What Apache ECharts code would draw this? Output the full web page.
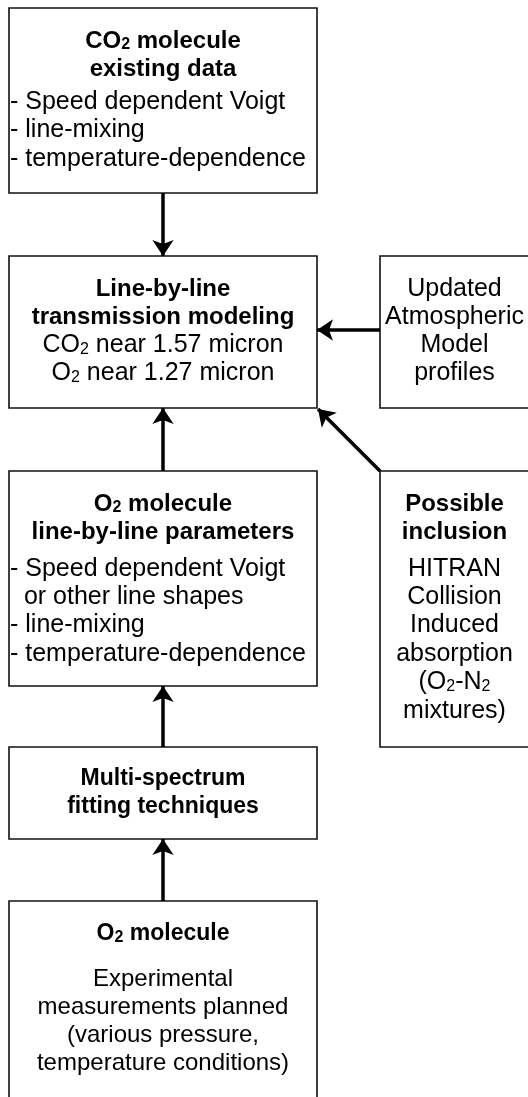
<!DOCTYPE html>
<html>
<head>
<meta charset="utf-8">
<script src="https://cdn.jsdelivr.net/npm/echarts@6/dist/echarts.min.js"></script>
<style>
    html, body { margin: 0; padding: 0; background: #fff; }
    #flowChart { width: 528px; height: 1097px; }
</style>
</head>
<body>
<div id="flowChart"></div>
<script>
// boxes (in page units, y grows downward)
var boxLeft   = [9,   9,   380, 9,   380, 9,   9];
var boxRight  = [317, 317, 529, 317, 529, 317, 317];
var boxTop    = [8,   256, 256, 471, 471, 747, 901];
var boxBottom = [193, 408, 408, 686, 747, 839, 1120];

// text lines: box index, centre y, rich text, alignment
var lineBox = [0, 0, 0, 0, 0,
               1, 1, 1, 1,
               2, 2, 2, 2,
               3, 3, 3, 3, 3, 3,
               4, 4, 4, 4, 4, 4, 4, 4,
               5, 5,
               6, 6, 6, 6, 6];
var lineY = [41, 69, 102, 130, 159,
             289, 317, 345, 373,
             289, 317, 345, 373,
             504, 532, 569, 597, 625, 654,
             504, 532, 569, 597, 625, 654, 682, 711,
             779, 807,
             934, 979, 1007, 1035, 1063];
var lineText = [
    '{b|CO}{bs|2}{b| molecule}', '{b|existing data}', '- Speed dependent Voigt', '- line-mixing', '- temperature-dependence',
    '{b|Line-by-line}', '{b|transmission modeling}', 'CO{s|2} near 1.57 micron', 'O{s|2} near 1.27 micron',
    'Updated', 'Atmospheric', 'Model', 'profiles',
    '{b|O}{bs|2}{b| molecule}', '{b|line-by-line parameters}', '- Speed dependent Voigt', '  or other line shapes', '- line-mixing', '- temperature-dependence',
    '{b|Possible}', '{b|inclusion}', 'HITRAN', 'Collision', 'Induced', 'absorption', '(O{s|2}-N{s|2}', 'mixtures)',
    '{b|Multi-spectrum}', '{b|fitting techniques}',
    '{b|O}{bs|2}{b| molecule}', 'Experimental', 'measurements planned', '(various pressure,', 'temperature conditions)'
];
var lineAlign = ['c', 'c', 'l', 'l', 'l',
                 'c', 'c', 'c', 'c',
                 'c', 'c', 'c', 'c',
                 'c', 'c', 'l', 'l', 'l', 'l',
                 'c', 'c', 'c', 'c', 'c', 'c', 'c', 'c',
                 'c', 'c',
                 'c', 'c', 'c', 'c', 'c'];

// arrows: start -> tip
var arrowFrom = [[163, 193], [380, 330], [380, 471], [163, 471], [163, 747], [163, 901]];
var arrowTo   = [[163, 256], [317, 330], [318, 409], [163, 408], [163, 686], [163, 839]];

var FONT = '"Liberation Sans", Arial, Helvetica, sans-serif';
// plain text size per box (the last box is set a little smaller)
var bodySize = [25, 25, 25, 25, 25, 24, 24];

function richFor(size) {
    return {
        b:  { fontFamily: FONT, fontSize: size - 1, fontWeight: 'bold', color: '#000' },
        bs: { fontFamily: FONT, fontSize: 16, fontWeight: 'bold', color: '#000', verticalAlign: 'bottom', lineHeight: 21 },
        s:  { fontFamily: FONT, fontSize: 16, color: '#000', verticalAlign: 'bottom', lineHeight: 21 }
    };
}

var chart = echarts.init(document.getElementById('flowChart'), null, { renderer: 'canvas' });

chart.setOption({
    animation: false,
    grid: { left: 0, right: 0, top: 0, bottom: 0 },
    xAxis: { type: 'value', min: 0, max: 528, show: false },
    yAxis: { type: 'value', min: 0, max: 1097, inverse: true, show: false },
    series: [
        {
            // boxes
            type: 'custom',
            coordinateSystem: 'cartesian2d',
            clip: true,
            data: boxTop.map(function (t, i) { return [i]; }),
            renderItem: function (params, api) {
                var i = api.value(0);
                var p0 = api.coord([boxLeft[i], boxTop[i]]);
                var p1 = api.coord([boxRight[i], boxBottom[i]]);
                return {
                    type: 'rect',
                    shape: { x: p0[0], y: p0[1], width: p1[0] - p0[0], height: p1[1] - p0[1] },
                    style: { fill: '#fff', stroke: '#111', lineWidth: 1.6 }
                };
            }
        },
        {
            // arrows
            type: 'lines',
            coordinateSystem: 'cartesian2d',
            symbol: ['none', 'arrow'],
            symbolSize: [11, 16],
            lineStyle: { color: '#000', width: 3.5, opacity: 1 },
            data: arrowFrom.map(function (f, i) { return { coords: [f, arrowTo[i]] }; }),
            z: 3
        },
        {
            // text lines
            type: 'custom',
            coordinateSystem: 'cartesian2d',
            data: lineY.map(function (y, i) { return [i]; }),
            z: 4,
            renderItem: function (params, api) {
                var i = api.value(0);
                var b = lineBox[i];
                var left = lineAlign[i] === 'l';
                var x = left ? boxLeft[b] + 1 : (boxLeft[b] + boxRight[b]) / 2;
                var p = api.coord([x, lineY[i]]);
                return {
                    type: 'text',
                    x: p[0],
                    y: p[1],
                    style: {
                        text: lineText[i],
                        rich: richFor(bodySize[b]),
                        font: bodySize[b] + 'px ' + FONT,
                        fill: '#000',
                        align: left ? 'left' : 'center',
                        verticalAlign: 'middle'
                    }
                };
            }
        }
    ]
});
</script>
</body>
</html>
